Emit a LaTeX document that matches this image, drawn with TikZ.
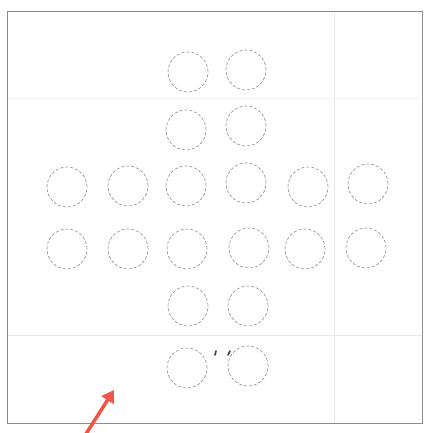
\documentclass[tikz,border=0pt]{standalone}
\usetikzlibrary{arrows.meta}
\definecolor{pen}{RGB}{140,140,140}
\definecolor{faint}{RGB}{232,232,232}
\definecolor{fainter}{RGB}{242,242,242}
\definecolor{redpen}{RGB}{240,85,70}
\begin{document}
\begin{tikzpicture}[x=1pt,y=-1pt,
  hole/.style={circle,draw=pen,densely dashed,line width=0.6pt,minimum size=40pt,inner sep=0pt},
  frame/.style={draw=pen,line width=0.7pt},
  gridline/.style={draw=faint,line width=0.5pt},
  tick/.style={line width=1.6pt,draw=black!75,line cap=round}]
\useasboundingbox (0,0) rectangle (427,433);
\fill[white] (0,0) rectangle (427,433);
% faint grid lines
\draw[gridline] (8,335) -- (421,335);
\draw[gridline] (334,12) -- (334,422);
\draw[gridline,draw=fainter] (8,98) -- (421,98);
% frame
\draw[frame] (7,11) rectangle (422,423);
% holes
\node[hole] (a1) at (188,72) {};
\node[hole] (a2) at (246,70) {};
\node[hole] (b1) at (186,130) {};
\node[hole] (b2) at (246,126) {};
\node[hole] (c1) at (67,187) {};
\node[hole] (c2) at (128,186) {};
\node[hole] (c3) at (186,186) {};
\node[hole] (c4) at (246,183) {};
\node[hole] (c5) at (308,187) {};
\node[hole] (c6) at (368,184) {};
\node[hole] (d1) at (67,249) {};
\node[hole] (d2) at (128,249) {};
\node[hole] (d3) at (187,249) {};
\node[hole] (d4) at (249,248) {};
\node[hole] (d5) at (305,249) {};
\node[hole] (d6) at (366,248) {};
\node[hole] (e1) at (188,306) {};
\node[hole] (e2) at (248,306) {};
\node[hole] (f1) at (187,368) {};
\node[hole] (f2) at (248,366) {};
% two small marks
\coordinate (m1a) at (215,355); \coordinate (m1b) at (216,351);
\coordinate (m2a) at (228,355); \coordinate (m2b) at (230,351);
\draw[tick] (m1a) -- (m1b);
\draw[tick] (m2a) -- (m2b);
% red arrow
\coordinate (arrowtail) at (84,437);
\coordinate (arrowhead) at (114,390);
\draw[redpen,line width=3.5pt,-{Triangle[length=12pt,width=14pt]}] (arrowtail) -- (arrowhead);
\end{tikzpicture}
\end{document}
